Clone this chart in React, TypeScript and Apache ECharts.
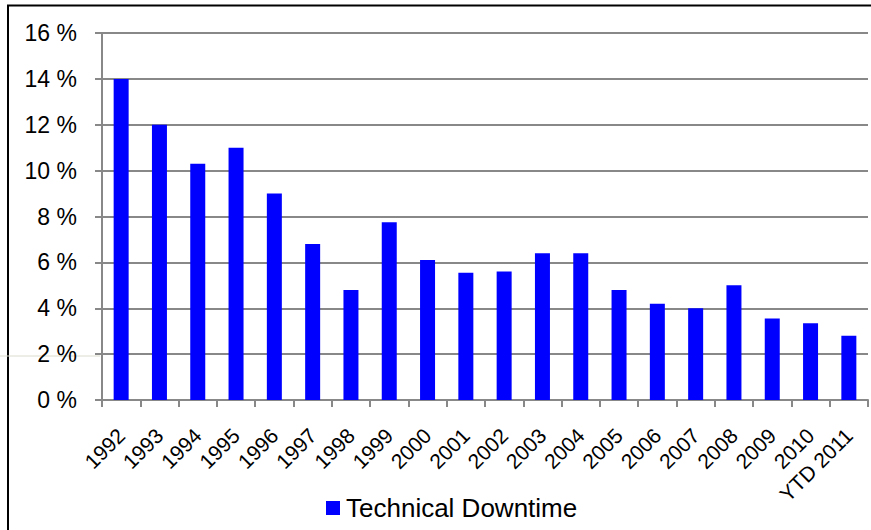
import React, { useEffect, useRef } from "react";
import * as echarts from "echarts";

const categories = [
  "1992", "1993", "1994", "1995", "1996", "1997", "1998", "1999", "2000", "2001",
  "2002", "2003", "2004", "2005", "2006", "2007", "2008", "2009", "2010", "YTD 2011",
];
const downtime = [
  14, 12, 10.3, 11, 9, 6.8, 4.8, 7.75, 6.1, 5.55,
  5.6, 6.4, 6.4, 4.8, 4.2, 4.0, 5.0, 3.55, 3.35, 2.8,
];
const seriesName = "Technical Downtime";

export default function App() {
  const ref = useRef<HTMLDivElement>(null);
  useEffect(() => {
    if (!ref.current) return;
    const chart = echarts.init(ref.current, null, { renderer: "svg" });
    const font = "Liberation Sans, Arial, sans-serif";
    chart.setOption({
      animation: false,
      backgroundColor: "#ffffff",
      textStyle: { fontFamily: font, color: "#000" },
      grid: { left: 102, right: 3, top: 33, bottom: 130, containLabel: false },
      legend: {
        data: [seriesName],
        left: 326,
        top: 495,
        padding: 0,
        icon: "rect",
        itemWidth: 14,
        itemHeight: 14,
        itemGap: 6,
        textStyle: { fontFamily: font, fontSize: 26, color: "#000", padding: [0, 0, 0, 1] },
      },
      xAxis: {
        type: "category",
        data: categories,
        axisLine: { lineStyle: { color: "#888", width: 2 } },
        axisTick: { show: true, length: 7, lineStyle: { color: "#888", width: 2 } },
        axisLabel: { rotate: 45, margin: 32, fontSize: 21, color: "#000", fontFamily: font, interval: 0 },
      },
      yAxis: {
        type: "value",
        min: 0,
        max: 16,
        interval: 2,
        axisLine: { show: true, lineStyle: { color: "#888", width: 2 } },
        axisTick: { show: true, inside: false, length: 7, lineStyle: { color: "#888", width: 2 } },
        axisLabel: { formatter: "{value} %", margin: 25, fontSize: 23, color: "#000", fontFamily: font },
        splitLine: { show: true, lineStyle: { color: "#888", width: 2 } },
      },
      series: [
        {
          name: seriesName,
          type: "bar",
          data: downtime,
          barWidth: 15,
          itemStyle: { color: "#0000ff" },
        },
      ],
      graphic: [
        { type: "line", shape: { x1: 7, y1: 5.5, x2: 871, y2: 5.5 }, style: { stroke: "#000", lineWidth: 2 } },
        { type: "line", shape: { x1: 8, y1: 5, x2: 8, y2: 530 }, style: { stroke: "#000", lineWidth: 2 } },
        { type: "line", shape: { x1: 0, y1: 356, x2: 100, y2: 356 }, style: { stroke: "#dcdccf", lineWidth: 1 } },
      ],
    });
    return () => chart.dispose();
  }, []);
  return (
    <div
      ref={ref}
      style={{ position: "absolute", left: 0, top: 0, width: 871, height: 530, background: "#fff" }}
    />
  );
}
